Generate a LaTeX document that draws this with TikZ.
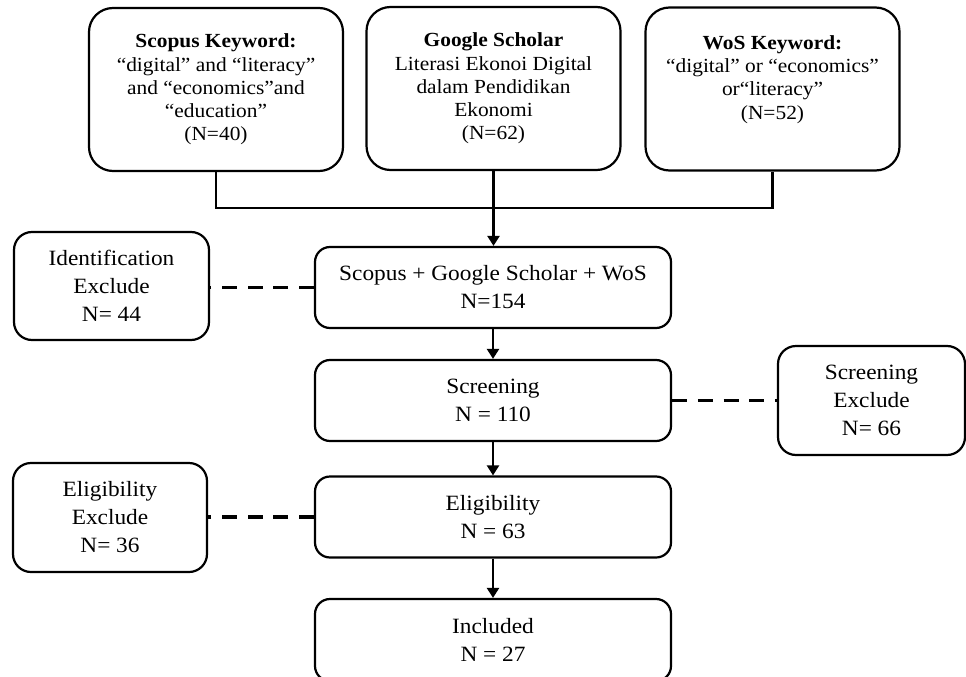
\documentclass[tikz,border=0pt]{standalone}
\usepackage{fontspec}
\setmainfont{Liberation Serif}[FakeStretch=1.07]
\usetikzlibrary{arrows.meta}
\begin{document}
\begin{tikzpicture}[x=1pt,y=-1pt,
  topbox/.style={draw, line width=2.2pt, rounded corners=24pt, minimum width=254pt,
    minimum height=163pt, inner sep=0pt, align=center, font=\fontsize{20}{23.3}\selectfont},
  midbox/.style={draw, line width=2.2pt, rounded corners=15pt, minimum width=356pt,
    minimum height=81pt, inner sep=0pt, align=center, font=\fontsize{21.8}{28}\selectfont},
  sidebox/.style={draw, line width=2.2pt, rounded corners=18pt, minimum width=194pt,
    minimum height=108pt, inner sep=0pt, align=center, font=\fontsize{21.8}{28}\selectfont},
  conn/.style={line width=2.3pt},
  arr/.style={line width=2.3pt, -{Triangle[length=10pt,width=12pt]}},
  exdash/.style={line width=3.3pt, dash pattern=on 15pt off 10.7pt}]
\useasboundingbox (0,0) rectangle (966,677);
\clip (0,0) rectangle (966,677);

% top sources
\node[topbox] (S) at (216,89.5) {\textbf{Scopus Keyword:}\\“digital” and “literacy”\\and “economics”and\\“education”\\(N=40)};
\node[topbox] (G) at (493.5,88.5) {\textbf{Google Scholar}\\Literasi Ekonoi Digital\\dalam Pendidikan\\Ekonomi\\(N=62)};
\node[topbox] (W) at (772.5,89) {\textbf{WoS Keyword:}\\“digital” or “economics”\\or“literacy”\\(N=52)\\\mbox{}};

% main column
\node[midbox] (M1) at (493,287.5) {Scopus + Google Scholar + WoS\\N=154};
\node[midbox] (M2) at (493,400.5) {Screening\\N = 110};
\node[midbox] (M3) at (493,517) {Eligibility\\N = 63};
\node[midbox, minimum height=82pt] (M4) at (493,640) {Included\\N = 27};

% exclusion boxes
\node[sidebox, minimum width=195pt] (IdEx) at (111.5,286) {Identification\\Exclude\\N= 44};
\node[sidebox, minimum width=187pt, minimum height=109pt] (ScEx) at (871.5,400.5) {Screening\\Exclude\\N= 66};
\node[sidebox, minimum height=109pt] (ElEx) at (110,517.5) {Eligibility\\Exclude\\N= 36};

% connectors
\coordinate (join) at (493.5,208);
\draw[conn] (S.south) |- (join) -| (W.south);
\draw[arr] (G.south) -- (G.south |- M1.north);
\draw[arr] (M1.south) -- (M2.north);
\draw[arr] (M2.south) -- (M3.north);
\draw[arr] (M3.south) -- (M4.north);

\draw[exdash] (M1.west) -- (M1.west -| IdEx.east);
\draw[exdash] (M2.east) -- (M2.east -| ScEx.west);
\draw[exdash] (M3.west) -- (M3.west -| ElEx.east);
\end{tikzpicture}
\end{document}
